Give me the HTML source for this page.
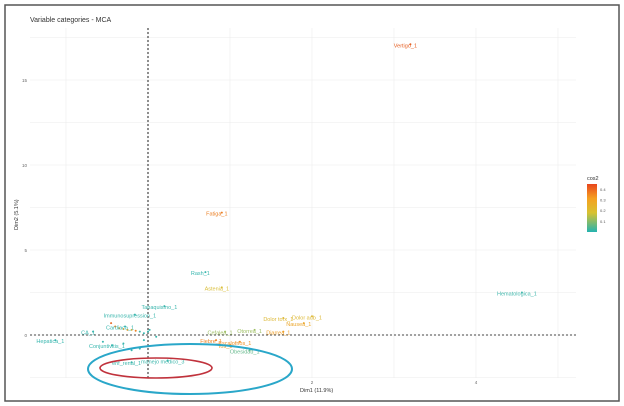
<!DOCTYPE html>
<html><head><meta charset="utf-8"><style>
html,body{margin:0;padding:0;background:#fff;}
svg{display:block;font-family:"Liberation Sans",sans-serif;}
</style></head><body>
<svg id="chart" width="624" height="406" viewBox="0 0 624 406">
<rect x="5" y="5" width="614" height="396" fill="#fff" stroke="#555" stroke-width="1.5"/>
<text x="30" y="22" font-size="7" fill="#333">Variable categories - MCA</text>
<g id="grid"></g>
<g id="axes"></g>
<g id="marks"></g>
<text x="300" y="392" font-size="5.5" fill="#333">Dim1 (11.9%)</text>
<text transform="translate(18,230) rotate(-90)" font-size="5.5" fill="#333">Dim2 (5.1%)</text>
<ellipse cx="190" cy="369" rx="102" ry="25" fill="none" stroke="#2aa7c9" stroke-width="2"/>
<ellipse cx="156" cy="368" rx="56" ry="10" fill="none" stroke="#c0323c" stroke-width="1.6"/>
<defs><linearGradient id="cg" x1="0" y1="1" x2="0" y2="0">
<stop offset="0" stop-color="#24b3b0"/><stop offset="0.4" stop-color="#d8c230"/><stop offset="0.7" stop-color="#f5a020"/><stop offset="1" stop-color="#e8461e"/></linearGradient></defs>
<g>
<text x="587" y="180" font-size="5.5" fill="#333">cos2</text>
<rect x="587" y="184" width="10" height="48" fill="url(#cg)"/>
<g id="legticks"></g>
</g>
</svg>
<script>
const labels=["Vertigo_1","Fatiga_1","Rash_1","Astenia_1","Tabaquismo_1","Immunosupression_1","Cardiaca_1","Hematologica_1","Dolor torx_1","Dolor adb_1","Nausea_1","Cefalea_1","Otorrea_1","Diarrea_1","Fiebre_1","Tos_1","Escalofrios_1","Obesidad_1","CA_1","Hepatica_1","Conjuntivitis_1","enf_renal_1","manejo medico_3"];
const dim1=[3.2,0.9,0.7,0.9,0.2,-0.16,-0.28,4.56,1.65,2.0,1.9,0.94,1.3,1.65,0.83,1.0,1.12,1.24,-0.67,-1.13,-0.44,-0.2,0.24];
const dim2=[17.1,7.2,3.7,2.8,1.7,1.2,0.5,2.5,1.0,1.1,0.7,0.2,0.3,0.2,-0.3,-0.6,-0.4,-0.9,0.2,-0.3,-0.6,-1.6,-1.5];
const cos2=[0.42,0.36,0.05,0.2,0.06,0.06,0.05,0.08,0.22,0.22,0.28,0.15,0.15,0.3,0.35,0.3,0.33,0.12,0.05,0.05,0.05,0.07,0.07];
const extraX=[-0.45,-0.4,-0.35,-0.3,-0.25,-0.2,-0.15,-0.1,-0.05,0.0,0.02,-0.05,-0.3,-0.55,0.1,-0.1,-0.2];
const extraY=[0.7,0.5,0.4,0.35,0.3,0.3,0.25,0.2,0.1,0.2,0.3,-0.3,-0.5,-0.4,-0.1,-0.8,-0.9];
const extraC=[0.4,0.35,0.3,0.3,0.3,0.25,0.35,0.1,0.05,0.05,0.05,0.05,0.05,0.05,0.05,0.05,0.05];
const xTicks=[2,4];
const yTicks=[0,5,10,15];
const legTicks=[0.1,0.2,0.3,0.4];
const X=v=>148+v*82, Y=v=>335-v*17;
const NS="http://www.w3.org/2000/svg";
function mk(t,a,p){const e=document.createElementNS(NS,t);for(const k in a)e.setAttribute(k,a[k]);p.appendChild(e);return e;}
function col(c){const stops=[[0,[40,180,178]],[0.1,[70,184,170]],[0.18,[212,196,60]],[0.3,[240,160,40]],[0.45,[228,80,35]]];
 c=Math.max(0,Math.min(0.45,c));for(let i=1;i<stops.length;i++){if(c<=stops[i][0]){const a=stops[i-1],b=stops[i],t=(c-a[0])/(b[0]-a[0]);return "rgb("+a[1].map((v,j)=>Math.round(v+(b[1][j]-v)*t)).join(",")+")";}}return "rgb(228,80,35)";}
const grid=document.getElementById('grid');
for(let v=-1;v<=5;v++){const l=mk('line',{x1:X(v),x2:X(v),y1:28,y2:378,stroke:'#ececec','stroke-width':0.6},grid);}
for(let v=-2.5;v<=17.5;v+=2.5){const l=mk('line',{x1:30,x2:576,y1:Y(v),y2:Y(v),stroke:'#ececec','stroke-width':0.6},grid);}
const axes=document.getElementById('axes');
mk('line',{x1:30,x2:576,y1:Y(0),y2:Y(0),stroke:'#444','stroke-width':1,'stroke-dasharray':'2,2'},axes);
mk('line',{x1:X(0),x2:X(0),y1:28,y2:378,stroke:'#444','stroke-width':1.2,'stroke-dasharray':'2,2'},axes);
yTicks.forEach(v=>{const t=mk('text',{x:27,y:Y(v)+2,'font-size':4.5,fill:'#666','text-anchor':'end'},axes);t.textContent=v;
});
xTicks.forEach(v=>{const t=mk('text',{x:X(v),y:384,'font-size':4.5,fill:'#666','text-anchor':'middle'},axes);t.textContent=v;
});
const marks=document.getElementById('marks');
extraX.forEach((v,i)=>{const c=mk('circle',{cx:X(v),cy:Y(extraY[i]),r:1,fill:col(extraC[i])},marks);
});
labels.forEach((s,i)=>{const x=X(dim1[i]),y=Y(dim2[i]),c=col(cos2[i]);
 const p=mk('circle',{cx:x,cy:y,r:1,fill:c},marks);
 
 
 const t=mk('text',{x:x-5,y:y+3,'font-size':5.5,fill:c,'text-anchor':'middle'},marks);t.textContent=s;
 
 });
const lg=document.getElementById('legticks');
legTicks.forEach(v=>{const y=232-v/0.45*48;const t=mk('text',{x:600,y:y+1.5,'font-size':4,fill:'#555'},lg);t.textContent=v;
});
</script>
</body></html>
